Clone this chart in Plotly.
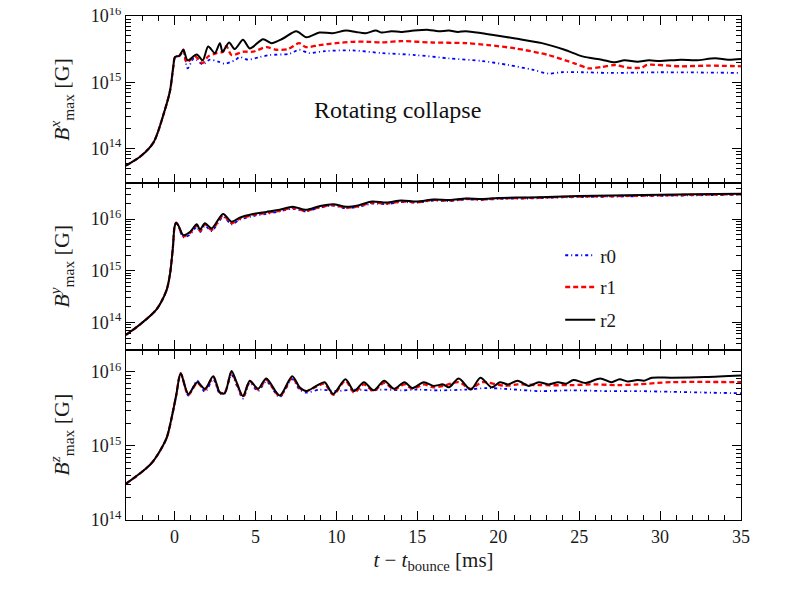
import plotly.graph_objects as go
from plotly.subplots import make_subplots

# ============================================
# data (log10 of B_max in G)
# ============================================
# shared collapse phase before bounce
t_pre_x = [-3.0, -2.1, -1.3, -0.6, -0.28, -0.08, 0.03]
bx_pre = [13.74, 13.88, 14.09, 14.58, 14.87, 15.23, 15.38]

t_pre_y = [-3.0, -2.1, -1.1, -0.5, -0.28, -0.1, 0.0, 0.1]
by_pre = [13.76, 13.97, 14.26, 14.62, 14.94, 15.46, 15.85, 15.93]

t_pre_z = [-3.0, -1.45, -0.52, -0.2, 0.1]
bz_pre = [14.49, 14.76, 15.09, 15.36, 15.68]

# B^x after bounce
t_bx_r2 = [0.3, 0.54, 0.81, 1.37, 1.74, 2.08, 2.49, 2.8, 2.97, 3.37, 3.72, 4.23, 4.65, 5.47, 5.98,
           6.7, 7.52, 8.14, 8.95, 9.76, 10.6, 11.2, 11.8, 12.44, 12.8, 13.4, 14.0, 14.8, 15.7, 16.3,
           16.95, 17.5, 18.0, 19.0, 19.8, 21.06, 22.7, 24.1, 25.2, 26.4, 27.2, 27.8, 28.6, 29.3,
           30.0, 31.3, 32.2, 33.4, 34.2, 35.0]
bx_r2 = [15.40, 15.49, 15.33, 15.42, 15.33, 15.54, 15.44, 15.59, 15.46, 15.60, 15.50, 15.64, 15.51,
         15.65, 15.59, 15.66, 15.77, 15.68, 15.75, 15.74, 15.78, 15.76, 15.74, 15.78, 15.75, 15.77,
         15.76, 15.78, 15.79, 15.77, 15.78, 15.76, 15.77, 15.74, 15.71, 15.66, 15.59, 15.49, 15.39,
         15.34, 15.30, 15.33, 15.31, 15.33, 15.32, 15.34, 15.33, 15.36, 15.34, 15.35]

t_bx_r1 = [0.3, 0.54, 0.75, 1.26, 1.74, 2.08, 2.6, 3.0, 3.2, 3.52, 4.23, 4.85, 5.67, 6.29, 7.0,
           7.7, 8.1, 8.95, 9.97, 11.0, 12.0, 12.8, 14.0, 15.9, 18.0, 19.4, 21.06, 23.1, 24.75,
           25.6, 26.4, 27.2, 28.0, 28.85, 29.2, 31.3, 33.0, 35.0]
bx_r1 = [15.40, 15.49, 15.30, 15.39, 15.29, 15.39, 15.44, 15.46, 15.55, 15.41, 15.46, 15.46, 15.53,
         15.49, 15.50, 15.59, 15.53, 15.56, 15.59, 15.61, 15.61, 15.60, 15.62, 15.60, 15.59, 15.56,
         15.51, 15.41, 15.28, 15.21, 15.23, 15.26, 15.22, 15.22, 15.26, 15.24, 15.25, 15.24]

t_bx_r0 = [0.3, 0.54, 0.81, 1.2, 1.74, 2.18, 2.7, 3.1, 3.72, 4.03, 4.54, 5.26, 5.88, 7.1, 7.7,
           8.3, 9.3, 11.0, 12.8, 14.9, 16.95, 19.0, 20.6, 22.1, 23.1, 23.9, 25.2, 27.0, 30.0, 35.0]
bx_r0 = [15.40, 15.45, 15.21, 15.36, 15.27, 15.34, 15.31, 15.28, 15.33, 15.38, 15.34, 15.38, 15.41,
         15.43, 15.49, 15.44, 15.47, 15.48, 15.44, 15.41, 15.36, 15.32, 15.26, 15.19, 15.13, 15.15,
         15.15, 15.14, 15.15, 15.14]

# B^y after bounce
t_by = [0.23, 0.54, 0.95, 1.37, 1.57, 1.88, 2.29, 3.0, 3.52, 4.03, 4.85, 5.67, 6.5, 7.3, 8.1,
        8.95, 9.8, 10.6, 11.4, 12.2, 13.1, 14.0, 15.0, 16.0, 17.0, 18.0, 19.0, 20.0, 22.0, 24.0,
        26.0, 28.0, 30.0, 32.0, 35.0]
by_r2 = [15.88, 15.69, 15.75, 15.90, 15.80, 15.92, 15.82, 16.10, 15.95, 16.03, 16.10, 16.14, 16.18,
         16.24, 16.18, 16.25, 16.29, 16.24, 16.27, 16.34, 16.32, 16.36, 16.34, 16.38, 16.37, 16.40,
         16.39, 16.41, 16.42, 16.44, 16.45, 16.46, 16.47, 16.48, 16.49]
by_r1 = [15.88, 15.67, 15.73, 15.88, 15.77, 15.90, 15.79, 16.07, 15.92, 16.01, 16.08, 16.12, 16.16,
         16.22, 16.16, 16.23, 16.27, 16.22, 16.25, 16.32, 16.30, 16.34, 16.33, 16.37, 16.36, 16.39,
         16.38, 16.40, 16.41, 16.43, 16.44, 16.45, 16.46, 16.47, 16.48]
by_r0 = [15.88, 15.65, 15.70, 15.85, 15.75, 15.87, 15.77, 16.04, 15.90, 15.99, 16.06, 16.10, 16.15,
         16.20, 16.15, 16.22, 16.26, 16.21, 16.24, 16.30, 16.29, 16.33, 16.32, 16.36, 16.35, 16.38,
         16.37, 16.39, 16.40, 16.42, 16.43, 16.44, 16.45, 16.46, 16.47]

# B^z after bounce
t_bz_r2 = [0.38, 0.85, 1.4, 1.88, 2.39, 2.8, 3.1, 3.52, 3.83, 4.23, 4.65, 5.16, 5.67, 6.5, 7.27,
           7.73, 8.14, 8.76, 9.27, 9.8, 10.56, 11.1, 11.7, 12.3, 12.95, 13.56, 14.2, 14.7, 15.4,
           16.0, 16.6, 16.95, 17.56, 18.3, 18.9, 19.6, 20.1, 20.6, 21.2, 21.9, 22.5, 23.1, 23.7,
           24.2, 24.65, 25.4, 26.3, 27.0, 27.5, 28.0, 28.6, 29.0, 29.5, 30.7, 32.8, 35.0]
bz_r2 = [15.98, 15.70, 15.86, 15.77, 15.94, 15.72, 15.71, 16.01, 15.86, 15.67, 15.88, 15.77, 15.91,
         15.68, 15.94, 15.79, 15.74, 15.81, 15.86, 15.70, 15.90, 15.74, 15.86, 15.75, 15.88, 15.77,
         15.86, 15.78, 15.86, 15.81, 15.83, 15.79, 15.91, 15.76, 15.92, 15.79, 15.86, 15.83, 15.88,
         15.81, 15.86, 15.83, 15.86, 15.84, 15.89, 15.85, 15.91, 15.86, 15.90, 15.87, 15.89, 15.88,
         15.92, 15.92, 15.93, 15.95]

t_bz_r1 = [0.38, 0.85, 1.4, 1.88, 2.39, 2.8, 3.1, 3.52, 3.83, 4.23, 4.65, 5.16, 5.67, 6.5, 7.27,
           7.73, 8.14, 8.76, 9.27, 9.8, 10.56, 11.1, 11.7, 12.3, 12.95, 13.56, 14.2, 14.7, 15.4,
           16.0, 16.6, 17.56, 18.3, 19.0, 20.4, 21.2, 22.5, 24.5, 26.0, 27.4, 28.6, 30.7, 35.0]
bz_r1 = [15.98, 15.69, 15.85, 15.76, 15.93, 15.72, 15.72, 15.99, 15.85, 15.66, 15.87, 15.76, 15.89,
         15.67, 15.92, 15.78, 15.74, 15.80, 15.84, 15.69, 15.88, 15.72, 15.83, 15.74, 15.85, 15.76,
         15.83, 15.77, 15.83, 15.79, 15.81, 15.86, 15.77, 15.86, 15.81, 15.83, 15.82, 15.82, 15.83,
         15.82, 15.83, 15.86, 15.86]

t_bz_r0 = [0.38, 0.85, 1.4, 1.88, 2.39, 2.8, 3.1, 3.52, 3.83, 4.23, 4.65, 5.16, 5.67, 6.5, 7.27,
           7.73, 8.14, 9.0, 10.0, 11.0, 12.0, 13.0, 14.0, 15.0, 16.3, 18.0, 19.3, 20.4, 22.5, 24.5,
           26.7, 28.5, 30.7, 32.8, 35.0]
bz_r0 = [15.98, 15.68, 15.88, 15.73, 15.90, 15.70, 15.72, 15.96, 15.82, 15.64, 15.85, 15.74, 15.87,
         15.66, 15.90, 15.76, 15.72, 15.76, 15.74, 15.76, 15.75, 15.76, 15.75, 15.76, 15.75, 15.76,
         15.78, 15.77, 15.74, 15.75, 15.74, 15.74, 15.73, 15.72, 15.71]

runs = ['r0', 'r1', 'r2']
run_color = {'r0': 'blue', 'r1': 'red', 'r2': 'black'}
run_dash = {'r0': '3px,3px,1px,3px', 'r1': '5px,3px', 'r2': 'solid'}
run_width = {'r0': 1.8, 'r1': 2.3, 'r2': 2}
run_legend = {'r0': 'legend', 'r1': 'legend2', 'r2': 'legend3'}

panels = [
    (1, t_pre_x, bx_pre, {'r0': (t_bx_r0, bx_r0), 'r1': (t_bx_r1, bx_r1), 'r2': (t_bx_r2, bx_r2)}),
    (2, t_pre_y, by_pre, {'r0': (t_by, by_r0), 'r1': (t_by, by_r1), 'r2': (t_by, by_r2)}),
    (3, t_pre_z, bz_pre, {'r0': (t_bz_r0, bz_r0), 'r1': (t_bz_r1, bz_r1), 'r2': (t_bz_r2, bz_r2)}),
]

FONT = 'Liberation Serif'
TXT = '#1a1a1a'

# ============================================
# figure
# ============================================
fig = make_subplots(rows=3, cols=1, shared_xaxes=True, vertical_spacing=0,
                    row_heights=[167, 166.5, 170.5])

for row, t_pre, b_pre, series in panels:
    for run in runs:
        t_post, b_post = series[run]
        t_all = t_pre + t_post
        b_all = [10 ** v for v in b_pre + b_post]
        fig.add_trace(go.Scatter(
            x=t_all, y=b_all, mode='lines', name=run,
            line=dict(color=run_color[run], dash=run_dash[run], width=run_width[run],
                      shape='spline', smoothing=0.8),
            showlegend=(row == 2),
            legend=run_legend[run],
        ), row=row, col=1)

axis_common = dict(showline=True, linecolor='black', linewidth=1.3, mirror='allticks',
                   ticks='inside', ticklen=9, tickwidth=1.2, tickcolor='black',
                   showgrid=False, zeroline=False, automargin=False,
                   ticklabeloverflow='allow',
                   tickfont=dict(family=FONT, size=18, color=TXT))

for row in [1, 2, 3]:
    fig.update_xaxes(range=[-3, 35], tickvals=[0, 5, 10, 15, 20, 25, 30, 35],
                     minor=dict(ticks='inside', ticklen=5, tickcolor='black', dtick=1,
                                tick0=0, showgrid=False),
                     showticklabels=(row == 3), **axis_common, row=row, col=1)

fig.update_xaxes(title=dict(text='<i>t</i> − <i>t</i><sub>bounce</sub> [ms]',
                            font=dict(family=FONT, size=21, color=TXT), standoff=6),
                 row=3, col=1)

minor_vals = [m * 10 ** e for e in range(13, 17) for m in range(2, 10)]
y_ranges = {1: [13.477, 16.0], 2: [13.477, 16.699], 3: [14.0, 16.301]}
y_titles = {1: 'x', 2: 'y', 3: 'z'}
for row in [1, 2, 3]:
    fig.update_yaxes(type='log', range=y_ranges[row],
                     tickvals=[1e14, 1e15, 1e16],
                     ticktext=['10<sup>14</sup>', '10<sup>15</sup>', '10<sup>16</sup>'],
                     minor=dict(ticks='inside', ticklen=5, tickcolor='black',
                                tickvals=minor_vals, showgrid=False),
                     title=dict(text='<i>B</i><sup><i>%s</i></sup><sub>max</sub> [G]' % y_titles[row],
                                font=dict(family=FONT, size=22, color=TXT), standoff=14),
                     **axis_common, row=row, col=1)

fig.add_annotation(text='Rotating collapse', xref='x', yref='paper', x=13.8, y=0.843,
                   showarrow=False, font=dict(family=FONT, size=24, color='#111'))

leg_common = dict(x=0.706, xanchor='left', yanchor='middle', bgcolor='rgba(0,0,0,0)',
                  font=dict(family=FONT, size=19, color=TXT))
fig.update_layout(
    legend=dict(y=0.525, **leg_common),
    legend2=dict(y=0.462, **leg_common),
    legend3=dict(y=0.397, **leg_common),
    width=789, height=592,
    # page body adds an 8px offset, so margins are shifted to compensate
    margin=dict(l=118, r=56, t=8, b=80),
    paper_bgcolor='white', plot_bgcolor='white',
    font=dict(family=FONT, color=TXT),
)

fig.write_html("out.html")
